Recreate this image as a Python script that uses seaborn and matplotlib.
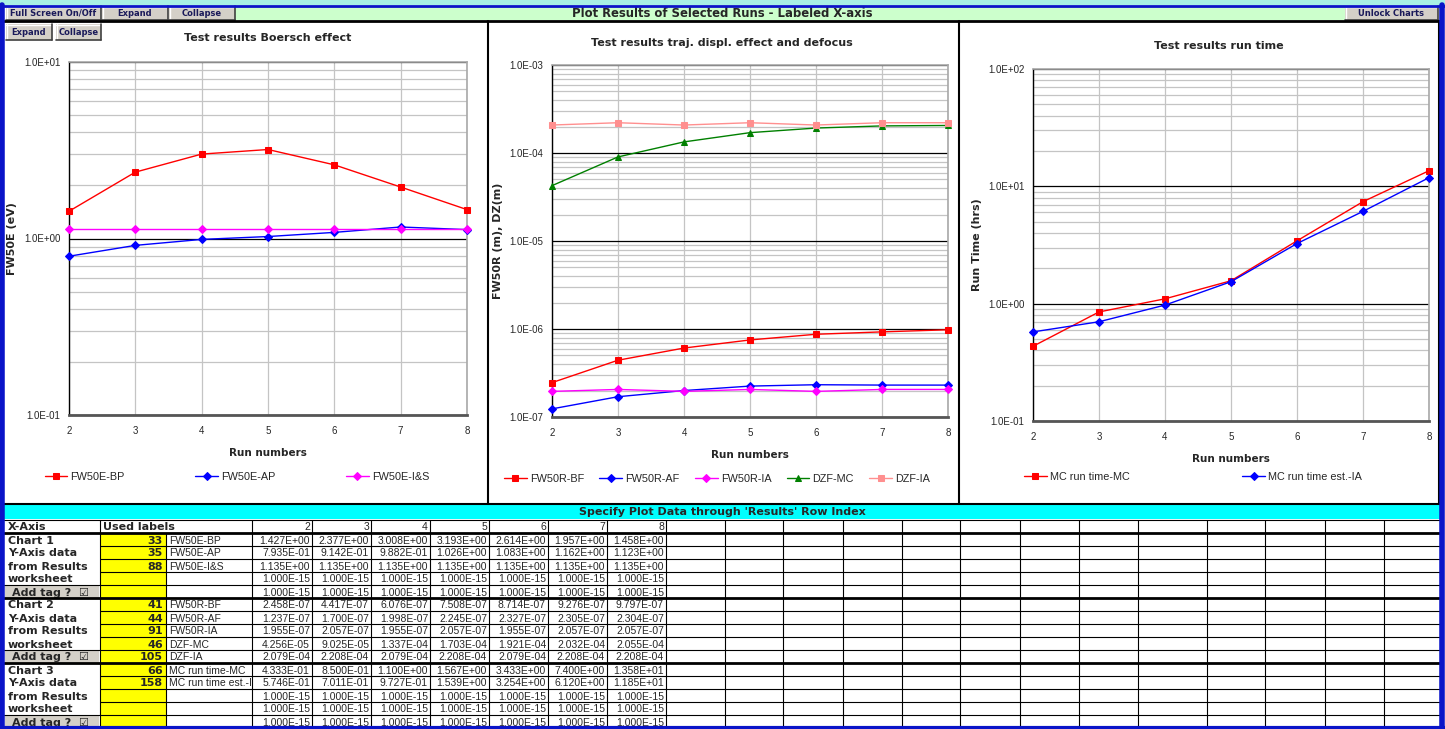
import matplotlib
matplotlib.use('Agg')
import matplotlib.pyplot as plt
from matplotlib.patches import Rectangle
from matplotlib.ticker import FuncFormatter, LogLocator, NullFormatter
from matplotlib.transforms import Bbox, TransformedBbox
import seaborn as sns

# Data -----------------------------------------------------------------------
runs = [2, 3, 4, 5, 6, 7, 8]

fw50e_bp = [1.427, 2.377, 3.008, 3.193, 2.614, 1.957, 1.458]
fw50e_ap = [0.7935, 0.9142, 0.9882, 1.026, 1.083, 1.162, 1.123]
fw50e_is = [1.135, 1.135, 1.135, 1.135, 1.135, 1.135, 1.135]

fw50r_bf = [2.458e-7, 4.417e-7, 6.076e-7, 7.508e-7, 8.714e-7, 9.276e-7, 9.797e-7]
fw50r_af = [1.237e-7, 1.700e-7, 1.998e-7, 2.245e-7, 2.327e-7, 2.305e-7, 2.304e-7]
fw50r_ia = [1.955e-7, 2.057e-7, 1.955e-7, 2.057e-7, 1.955e-7, 2.057e-7, 2.057e-7]
dzf_mc = [4.256e-5, 9.025e-5, 1.337e-4, 1.703e-4, 1.921e-4, 2.032e-4, 2.055e-4]
dzf_ia = [2.079e-4, 2.208e-4, 2.079e-4, 2.208e-4, 2.079e-4, 2.208e-4, 2.208e-4]

mc_time_mc = [0.4333, 0.8500, 1.100, 1.567, 3.433, 7.400, 13.58]
mc_time_ia = [0.5746, 0.7011, 0.9727, 1.539, 3.254, 6.120, 11.85]

filler = [1e-15, 1e-15, 1e-15, 1e-15, 1e-15, 1e-15, 1e-15]

rows_chart1 = [33, 35, 88, None, None]
rows_chart2 = [41, 44, 91, 46, 105]
rows_chart3 = [66, 158, None, None, None]

labels_chart1 = ['FW50E-BP', 'FW50E-AP', 'FW50E-I&S', '', '']
labels_chart2 = ['FW50R-BF', 'FW50R-AF', 'FW50R-IA', 'DZF-MC', 'DZF-IA']
labels_chart3 = ['MC run time-MC', 'MC run time est.-IA', '', '', '']

values_chart1 = [fw50e_bp, fw50e_ap, fw50e_is, filler, filler]
values_chart2 = [fw50r_bf, fw50r_af, fw50r_ia, dzf_mc, dzf_ia]
values_chart3 = [mc_time_mc, mc_time_ia, filler, filler, filler]

group_names = ['Chart 1', 'Chart 2', 'Chart 3']
group_text = ['Y-Axis data', 'from Results', 'worksheet']

# Setup ----------------------------------------------------------------------
W, H = 1445, 729
sns.set_style('white')
plt.rcParams['font.family'] = ['Liberation Sans', 'DejaVu Sans']
BOLD = ['DejaVu Sans']  # wider bold face, closer to the old MS Sans Serif look

fig = plt.figure(figsize=(W / 100, H / 100), dpi=100)
fig.patch.set_facecolor('white')


def box(x0, y0, x1, y1):
    return [x0 / W, 1 - y1 / H, (x1 - x0) / W, (y1 - y0) / H]


bg = fig.add_axes([0, 0, 1, 1])
bg.set_xlim(0, W)
bg.set_ylim(H, 0)
bg.axis('off')


def rect(x0, y0, x1, y1, fc, ec='none', lw=0, z=1):
    bg.add_patch(Rectangle((x0, y0), x1 - x0, y1 - y0, facecolor=fc,
                           edgecolor=ec, lw=lw, zorder=z))


def button(x0, y0, x1, y1, text):
    rect(x0, y0, x1, y1, '#d4d0c8', z=2)
    bg.plot([x0, x1], [y0 + 0.5, y0 + 0.5], color='white', lw=1, zorder=3)
    bg.plot([x0 + 0.5, x0 + 0.5], [y0, y1], color='white', lw=1, zorder=3)
    bg.plot([x0, x1], [y1 - 0.5, y1 - 0.5], color='#404040', lw=1.2, zorder=3)
    bg.plot([x1 - 0.5, x1 - 0.5], [y0, y1], color='#404040', lw=1.2, zorder=3)
    bg.text((x0 + x1) / 2, (y0 + y1) / 2, text, ha='center', va='center',
            fontsize=6, fontweight='bold', family=BOLD, color='#1a1a5a', zorder=4)


# Frame, toolbar -------------------------------------------------------------
rect(0, 0, W, 5, '#a8f0e4')
rect(235, 7, 1345, 20, '#ccffcc')
bg.text(722, 13.5, 'Plot Results of Selected Runs - Labeled X-axis', ha='center',
        va='center', fontsize=8.4, fontweight='bold', family=BOLD, zorder=4)
button(6, 6, 101, 20, 'Full Screen On/Off')
button(102, 6, 168, 20, 'Expand')
button(169, 6, 235, 20, 'Collapse')
button(1345, 6, 1438, 20, 'Unlock Charts')
bg.plot([4, 1440], [21, 21], color='black', lw=2, zorder=5)
button(6, 24, 52, 40, 'Expand')
button(56, 24, 101, 40, 'Collapse')

bg.plot([487.5, 487.5], [21, 504], color='black', lw=1.5, zorder=5)
bg.plot([958.5, 958.5], [21, 504], color='black', lw=1.5, zorder=5)
bg.plot([1439, 1439], [21, 504], color='black', lw=1.5, zorder=5)
bg.plot([4, 1440], [503.5, 503.5], color='black', lw=1.5, zorder=5)

# Table ----------------------------------------------------------------------
rect(4, 505, 1440, 519, '#00ffff')
bg.text(722, 512, "Specify Plot Data through 'Results' Row Index", ha='center',
        va='center', fontsize=8, fontweight='bold', family=BOLD, zorder=4)

col_x = [100, 166, 252, 312, 371, 430, 489, 548, 607, 666, 725, 783, 843, 902,
         960, 1020, 1079, 1138, 1207, 1265, 1325, 1384, 1440]
row_h = 13
top = 533
base = 10.5  # baseline offset inside a row

rect(100, top, 166, top + 15 * row_h, '#ffff00', z=1)

# header row
bg.text(8, 520 + base, 'X-Axis', ha='left', va='baseline', fontsize=8,
        fontweight='bold', family=BOLD)
bg.text(103, 520 + base, 'Used labels', ha='left', va='baseline', fontsize=8,
        fontweight='bold', family=BOLD)
for j, r in enumerate(runs):
    bg.text(col_x[j + 3] - 2, 520 + base, str(r), ha='right', va='baseline',
            fontsize=7.5)

groups = [(rows_chart1, labels_chart1, values_chart1),
          (rows_chart2, labels_chart2, values_chart2),
          (rows_chart3, labels_chart3, values_chart3)]

for g, (idx, labs, vals) in enumerate(groups):
    for k in range(5):
        i = g * 5 + k
        y0 = top + i * row_h
        yb = y0 + base
        if k == 0:
            bg.text(8, yb, group_names[g], ha='left', va='baseline', fontsize=8,
                    fontweight='bold', family=BOLD)
        elif k < 4:
            bg.text(8, yb, group_text[k - 1], ha='left', va='baseline', fontsize=8,
                    fontweight='bold', family=BOLD)
        else:
            rect(5, y0 + 1, 99, y0 + row_h, '#d4d0c8', z=1)
            bg.text(12, yb, 'Add tag ?  \u2611', ha='left', va='baseline', fontsize=8,
                    fontweight='bold', family=BOLD)
        if idx[k] is not None:
            bg.text(163, yb, str(idx[k]), ha='right', va='baseline', fontsize=8,
                    fontweight='bold', family=BOLD)
        if labs[k]:
            t = bg.text(169, yb, labs[k], ha='left', va='baseline', fontsize=7.5)
            t.set_clip_box(TransformedBbox(Bbox([[166, y0], [251, y0 + row_h]]),
                                           bg.transData))
            t.set_clip_on(True)
        for j, v in enumerate(vals[k]):
            bg.text(col_x[j + 3] - 2, yb, '%.3E' % v, ha='right', va='baseline',
                    fontsize=7.5)

# grid lines
for i in range(16):
    y = top + i * row_h
    lw = 2 if i in (0, 5, 10) else 0.8
    x_start = 4 if i in (0, 5, 10, 4, 9, 14) else 100
    bg.plot([x_start, 1440], [y, y], color='black', lw=lw, zorder=5)
for x in col_x[:-1]:
    bg.plot([x, x], [top, 729], color='black', lw=0.8, zorder=5)
for x in [100] + col_x[2:-1]:
    bg.plot([x, x], [519.5, top], color='black', lw=0.8, zorder=5)
bg.plot([4, 1440], [519.5, 519.5], color='black', lw=0.8, zorder=5)

# Blue border on top of everything
bg.plot([2, 2], [5, 729], color='#0a14c8', lw=4, zorder=10)
bg.plot([1442, 1442], [5, 729], color='#0a14c8', lw=4, zorder=10)
bg.plot([0, W], [5.5, 5.5], color='#0a14c8', lw=2, zorder=10)
bg.plot([0, W], [727.5, 727.5], color='#0a14c8', lw=3, zorder=10)


# Charts ---------------------------------------------------------------------
def chart(area, title, title_xy, ylabel, ylabel_x, series, ylim, leg_xy, spacing):
    ax = fig.add_axes(box(*area))
    for vals, lab, col, mk, ms in series:
        sns.lineplot(x=runs, y=vals, ax=ax, color=col, marker=mk, markersize=ms,
                     markeredgecolor=col, linewidth=1, label=lab, clip_on=False,
                     zorder=5)
    ax.set_yscale('log')
    ax.set_ylim(*ylim)
    ax.set_xlim(2, 8)
    ax.set_xticks(runs)
    ax.yaxis.set_major_locator(LogLocator(base=10, numticks=12))
    ax.yaxis.set_minor_locator(LogLocator(base=10, subs=range(2, 10), numticks=12))
    ax.yaxis.set_major_formatter(FuncFormatter(lambda v, p: '%.1E' % v))
    ax.yaxis.set_minor_formatter(NullFormatter())
    ax.set_axisbelow(True)
    ax.grid(which='minor', axis='y', color='#c4c4c4', lw=0.9)
    ax.grid(which='major', axis='y', color='black', lw=0.9)
    ax.grid(which='major', axis='x', color='#c4c4c4', lw=0.9)
    ax.tick_params(which='major', direction='out', length=3, width=1,
                   color='black', labelsize=7, pad=3)
    ax.tick_params(axis='x', pad=5)
    ax.tick_params(which='minor', length=0)
    for s in ['top', 'right']:
        ax.spines[s].set_color('#a8a8a8')
        ax.spines[s].set_linewidth(1.2)
    ax.spines['left'].set_color('black')
    ax.spines['left'].set_linewidth(1)
    ax.spines['bottom'].set_color('#555555')
    ax.spines['bottom'].set_linewidth(2)
    ax_h = area[3] - area[1]
    ax_w = area[2] - area[0]
    ax.set_xlabel('Run numbers', fontsize=7.5, fontweight='bold', family=BOLD)
    ax.xaxis.set_label_coords(0.5, -33 / ax_h)
    ax.set_ylabel(ylabel, fontsize=8, fontweight='bold', family=BOLD)
    ax.yaxis.set_label_coords((ylabel_x - area[0]) / ax_w, 0.5)
    bg.text(title_xy[0], title_xy[1], title, ha='center', va='center',
            fontsize=8, fontweight='bold', family=BOLD)
    handles, labs = ax.get_legend_handles_labels()
    ax.legend(handles, labs, ncol=len(labs), loc='center',
              bbox_to_anchor=(leg_xy[0] / W, 1 - leg_xy[1] / H),
              bbox_transform=fig.transFigure, frameon=False, fontsize=7.8,
              handlelength=2.1, handletextpad=0.3, columnspacing=spacing,
              borderaxespad=0)
    return ax


chart((69, 62, 467, 415), 'Test results Boersch effect', (268, 38), 'FW50E (eV)', 17,
      [(fw50e_bp, labels_chart1[0], '#ff0000', 's', 5),
       (fw50e_ap, labels_chart1[1], '#0000ff', 'D', 4),
       (fw50e_is, labels_chart1[2], '#ff00ff', 'D', 4)],
      (0.1, 10), (237, 477), 6.5)

chart((552, 65, 948, 417), 'Test results traj. displ. effect and defocus', (722, 43),
      'FW50R (m), DZ(m)', 503,
      [(fw50r_bf, labels_chart2[0], '#ff0000', 's', 5),
       (fw50r_af, labels_chart2[1], '#0000ff', 'D', 4),
       (fw50r_ia, labels_chart2[2], '#ff00ff', 'D', 4),
       (dzf_mc, labels_chart2[3], '#008000', '^', 5),
       (dzf_ia, labels_chart2[4], '#ff8f8f', 's', 5)],
      (1e-7, 1e-3), (717, 479), 1.4)

chart((1033, 69, 1429, 421), 'Test results run time', (1219, 46), 'Run Time (hrs)', 982,
      [(mc_time_mc, labels_chart3[0], '#ff0000', 's', 5),
       (mc_time_ia, labels_chart3[1], '#0000ff', 'D', 4)],
      (0.1, 100), (1193, 477), 10.4)

fig.savefig('out.png', dpi=100)
